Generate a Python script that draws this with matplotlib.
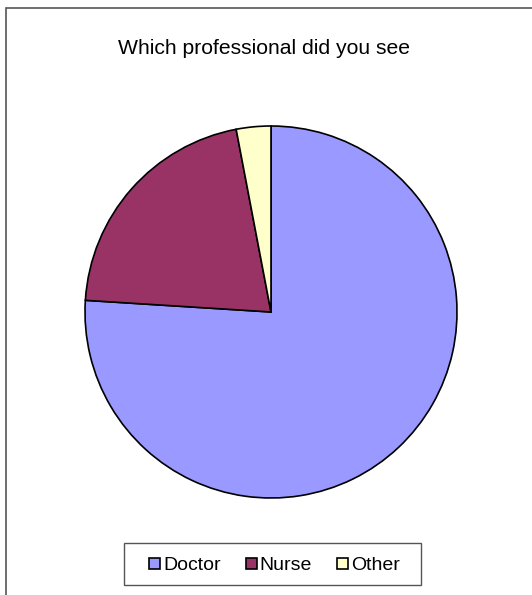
import matplotlib
matplotlib.use('Agg')
import matplotlib.pyplot as plt
from matplotlib.patches import Rectangle

plt.rcParams['font.family'] = ['Liberation Sans', 'DejaVu Sans']

labels = ['Doctor', 'Nurse', 'Other']
values = [76, 21, 3]
colors = ['#9999FF', '#993366', '#FFFFCC']

W, H = 532, 595
fig = plt.figure(figsize=(W / 100, H / 100), dpi=100)

# chart area border (only top/left are visible in the picture)
fig.patches.append(Rectangle((6 / W, -0.1), 1.0, 1 - 8 / H + 0.1,
                             transform=fig.transFigure, fill=False,
                             edgecolor='#555555', linewidth=1.2))

ax = fig.add_axes([85 / W, 97 / H, 372 / W, 372 / H])
wedges, _ = ax.pie(values, colors=colors, startangle=90, counterclock=False,
                   radius=1, wedgeprops=dict(edgecolor='black', linewidth=1.2,
                                             clip_on=False))
ax.set_xlim(-1.0, 1.0)
ax.set_ylim(-1.0, 1.0)
ax.set_aspect('equal')

fig.text(263.5 / W, 1 - 49 / H, 'Which professional did you see',
         ha='center', va='center', fontsize=15.2)

# legend box
fig.patches.append(Rectangle((124 / W, 1 - 585 / H), 297 / W, 42 / H,
                             transform=fig.transFigure, fill=False,
                             edgecolor='#555555', linewidth=1.0))
leg = fig.legend(wedges, labels, loc='center', ncol=3,
                 bbox_to_anchor=(274.5 / W, 1 - 566 / H),
                 fontsize=14, frameon=False,
                 handlelength=0.55, handleheight=0.55, handletextpad=0.15,
                 columnspacing=1.3, borderpad=0, borderaxespad=0)

plt.savefig('out.png', dpi=100)
